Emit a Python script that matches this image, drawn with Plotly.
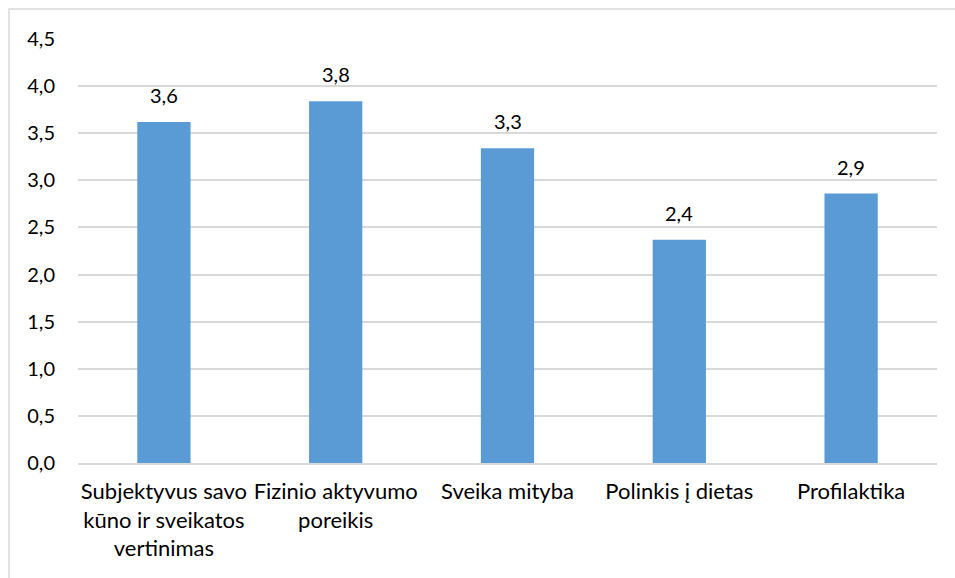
import plotly.graph_objects as go

categories = [
    "Subjektyvus savo<br>kūno ir sveikatos<br>vertinimas",
    "Fizinio aktyvumo<br>poreikis",
    "Sveika mityba",
    "Polinkis į dietas",
    "Profilaktika",
]
values = [3.62, 3.84, 3.34, 2.37, 2.86]
y_ticks = [0.0, 0.5, 1.0, 1.5, 2.0, 2.5, 3.0, 3.5, 4.0, 4.5]

FONT = "Lato"
FS = 20
BAR_COLOR = "#5b9bd5"
GRID_COLOR = "#d9d9d9"

fig = go.Figure(
    go.Bar(
        x=categories,
        y=values,
        marker=dict(color=BAR_COLOR, line=dict(width=0)),
        hoverinfo="skip",
    )
)

# Value labels above each bar, formatted with one decimal
for cat, val in zip(categories, values):
    fig.add_annotation(
        x=cat,
        y=val,
        text=f"{val:.1f}".replace(".", ","),
        showarrow=False,
        yanchor="bottom",
        yshift=13,
        font=dict(family=FONT, size=FS, color="#000000"),
    )

# Plot-area geometry in pixels, used to place the outer frame
W, H = 955, 578
L, R, T, B = 78, 18, 39, 115
pw, ph = W - L - R, H - T - B

fig.update_layout(
    width=W,
    height=H,
    margin=dict(l=L, r=R, t=T, b=B),
    paper_bgcolor="#ffffff",
    plot_bgcolor="#ffffff",
    separators=",.",
    bargap=0.69,
    showlegend=False,
    font=dict(family=FONT, size=FS, color="#000000"),
    xaxis=dict(
        showgrid=False,
        showline=True,
        linecolor=GRID_COLOR,
        linewidth=1.5,
        ticks="",
        ticklabelstandoff=8,
        tickfont=dict(family=FONT, size=22, color="#000000"),
        fixedrange=True,
    ),
    yaxis=dict(
        range=[0, 4.5],
        tickvals=y_ticks,
        tickformat=".1f",
        showgrid=True,
        gridcolor=GRID_COLOR,
        gridwidth=1.5,
        zeroline=False,
        showline=False,
        ticks="",
        ticklabelstandoff=22,
        tickfont=dict(family=FONT, size=FS, color="#000000"),
        fixedrange=True,
    ),
    shapes=[
        dict(
            type="rect",
            xref="paper",
            yref="paper",
            x0=(9 - L) / pw,
            x1=(W + 20 - L) / pw,
            y0=-(H + 20 - T - ph) / ph,
            y1=1 + (T - 9) / ph,
            line=dict(color=GRID_COLOR, width=1.5),
            fillcolor="rgba(0,0,0,0)",
            layer="below",
        )
    ],
)

fig.write_html("out.html")
